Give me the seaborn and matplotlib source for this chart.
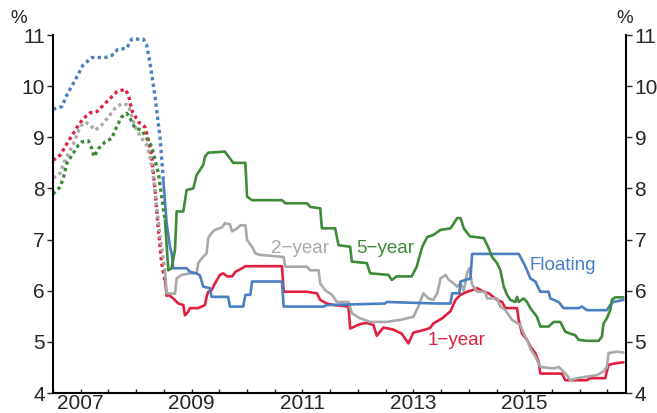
import numpy as np
import pandas as pd
import matplotlib
matplotlib.use("Agg")
import matplotlib.pyplot as plt
import seaborn as sns

sns.set_style("white")
plt.rcParams["font.family"] = ["Liberation Sans", "DejaVu Sans"]

# ---- data (decimal years, per cent) ----
# dotted segments (earlier series) and solid segments (later series)
floating_dot_x = [2007.0, 2007.16, 2007.25, 2007.4, 2007.54, 2007.7, 2007.94, 2008.06, 2008.17,
                  2008.33, 2008.42, 2008.63, 2008.69, 2008.75, 2008.84, 2008.93, 2008.99]
floating_dot_y = [9.55, 9.6, 9.83, 10.12, 10.41, 10.56, 10.56, 10.6, 10.72,
                  10.74, 10.92, 10.92, 10.8, 10.45, 9.8, 9.0, 8.16]
floating_x = [2008.99, 2009.05, 2009.11, 2009.14, 2009.17, 2009.41, 2009.47, 2009.59, 2009.65,
              2009.71, 2009.83, 2009.86, 2010.16, 2010.19, 2010.43, 2010.47, 2010.56, 2010.59,
              2011.13, 2011.16, 2011.88, 2011.94, 2012.99, 2013.02, 2013.93, 2014.17, 2014.2,
              2014.33, 2014.35, 2014.44, 2014.53, 2014.56, 2015.4, 2015.49, 2015.55, 2015.61,
              2015.7, 2015.79, 2015.94, 2015.97, 2016.12, 2016.21, 2016.48, 2016.54, 2016.63,
              2016.99, 2017.05, 2017.11, 2017.29]
floating_y = [8.16, 7.32, 6.86, 6.73, 6.44, 6.44, 6.37, 6.34, 6.3,
              6.08, 6.05, 5.88, 5.88, 5.69, 5.69, 5.92, 5.92, 6.18,
              6.18, 5.69, 5.69, 5.72, 5.75, 5.78, 5.75, 5.75, 5.95,
              5.95, 6.18, 6.21, 6.24, 6.72, 6.72, 6.54, 6.4, 6.24,
              6.18, 5.98, 5.98, 5.85, 5.78, 5.66, 5.66, 5.69, 5.62,
              5.62, 5.72, 5.78, 5.82]

one_dot_x = [2007.0, 2007.13, 2007.22, 2007.31, 2007.46, 2007.55, 2007.67, 2007.79, 2007.91,
             2008.03, 2008.15, 2008.3, 2008.36, 2008.42, 2008.54, 2008.66, 2008.72, 2008.78,
             2008.84, 2008.9, 2008.96, 2009.02]
one_dot_y = [8.55, 8.65, 8.82, 8.98, 9.24, 9.37, 9.48, 9.5, 9.63,
             9.76, 9.89, 9.94, 9.83, 9.53, 9.3, 9.2, 8.95, 8.62,
             7.97, 7.19, 6.54, 6.2]
one_x = [2009.02, 2009.05, 2009.08, 2009.17, 2009.26, 2009.35, 2009.38, 2009.44, 2009.47,
         2009.62, 2009.74, 2009.77, 2009.8, 2009.86, 2009.92, 2010.01, 2010.07, 2010.14,
         2010.23, 2010.29, 2010.41, 2010.47, 2011.13, 2011.16, 2011.58, 2011.76, 2011.82,
         2011.94, 2012.06, 2012.33, 2012.36, 2012.54, 2012.66, 2012.78, 2012.84, 2012.96,
         2013.14, 2013.29, 2013.41, 2013.5, 2013.68, 2013.8, 2013.86, 2014.02, 2014.17,
         2014.26, 2014.35, 2014.47, 2014.56, 2014.65, 2014.77, 2014.86, 2015.01, 2015.1,
         2015.16, 2015.37, 2015.4, 2015.46, 2015.55, 2015.61, 2015.7, 2015.76, 2015.79,
         2016.18, 2016.24, 2016.63, 2016.69, 2016.96, 2017.02, 2017.14, 2017.29]
one_y = [6.2, 5.9, 5.92, 5.85, 5.75, 5.72, 5.52, 5.59, 5.66,
         5.66, 5.72, 5.88, 5.98, 6.01, 6.14, 6.31, 6.34, 6.28,
         6.28, 6.37, 6.44, 6.48, 6.48, 5.98, 5.98, 5.95, 5.82,
         5.75, 5.72, 5.69, 5.26, 5.35, 5.37, 5.33, 5.12, 5.28,
         5.24, 5.16, 4.97, 5.18, 5.23, 5.27, 5.36, 5.46, 5.6,
         5.82, 5.92, 5.98, 6.01, 6.05, 5.98, 5.95, 5.82, 5.78,
         5.66, 5.66, 5.43, 5.16, 5.04, 4.91, 4.78, 4.61, 4.38,
         4.38, 4.25, 4.25, 4.29, 4.29, 4.55, 4.58, 4.6]

two_dot_x = [2007.0, 2007.13, 2007.19, 2007.28, 2007.37, 2007.49, 2007.58, 2007.67, 2007.76,
             2007.88, 2008.0, 2008.12, 2008.24, 2008.36, 2008.42, 2008.51, 2008.6, 2008.69,
             2008.75, 2008.81, 2008.87, 2008.93, 2009.02]
two_dot_y = [8.2, 8.3, 8.49, 8.69, 8.88, 9.21, 9.3, 9.24, 9.14,
             9.24, 9.4, 9.57, 9.66, 9.63, 9.4, 9.14, 8.98, 8.85,
             8.62, 8.23, 7.64, 7.06, 6.4]
two_x = [2009.02, 2009.05, 2009.2, 2009.23, 2009.32, 2009.47, 2009.59, 2009.62, 2009.68,
         2009.77, 2009.8, 2009.86, 2009.92, 2010.05, 2010.1, 2010.19, 2010.23, 2010.32,
         2010.38, 2010.47, 2010.5, 2010.59, 2010.65, 2010.74, 2011.16, 2011.19, 2011.58,
         2011.64, 2011.79, 2011.82, 2011.91, 2012.03, 2012.12, 2012.33, 2012.39, 2012.54,
         2012.72, 2013.02, 2013.26, 2013.5, 2013.59, 2013.68, 2013.77, 2013.86, 2013.93,
         2013.99, 2014.08, 2014.14, 2014.23, 2014.29, 2014.35, 2014.41, 2014.47, 2014.51,
         2014.56, 2014.65, 2014.8, 2014.83, 2015.01, 2015.07, 2015.16, 2015.28, 2015.34,
         2015.43, 2015.49, 2015.55, 2015.61, 2015.7, 2015.79, 2016.03, 2016.12, 2016.18,
         2016.27, 2016.33, 2016.45, 2016.63, 2016.81, 2016.93, 2016.99, 2017.02, 2017.17,
         2017.29]
two_y = [6.4, 5.95, 5.94, 6.24, 6.31, 6.34, 6.34, 6.54, 6.63,
         6.73, 7.03, 7.13, 7.19, 7.24, 7.32, 7.3, 7.16, 7.22,
         7.28, 7.28, 6.99, 6.86, 6.73, 6.7, 6.66, 6.47, 6.47,
         6.4, 6.4, 6.14, 6.01, 5.92, 5.78, 5.78, 5.56, 5.46,
         5.39, 5.39, 5.43, 5.49, 5.69, 5.95, 5.85, 5.82, 5.95,
         6.24, 6.31, 6.21, 6.14, 6.08, 6.14, 6.0, 6.35, 6.44,
         6.12, 5.98, 5.98, 5.85, 5.85, 5.69, 5.62, 5.43, 5.39,
         5.33, 5.16, 5.04, 4.87, 4.71, 4.51, 4.48, 4.51, 4.45,
         4.35, 4.25, 4.29, 4.32, 4.35, 4.42, 4.51, 4.78, 4.81,
         4.79]

five_dot_x = [2007.0, 2007.13, 2007.19, 2007.25, 2007.34, 2007.46, 2007.52, 2007.64, 2007.7,
              2007.74, 2007.82, 2007.94, 2008.06, 2008.15, 2008.24, 2008.33, 2008.39, 2008.48,
              2008.6, 2008.69, 2008.78, 2008.84, 2008.9, 2008.96, 2009.02]
five_dot_y = [7.89, 8.03, 8.23, 8.49, 8.65, 8.85, 8.91, 8.93, 8.78,
              8.62, 8.78, 8.91, 8.98, 9.21, 9.4, 9.47, 9.37, 9.18,
              9.14, 8.98, 8.82, 8.56, 8.3, 7.84, 7.38]
five_x = [2009.02, 2009.08, 2009.14, 2009.2, 2009.23, 2009.35, 2009.41, 2009.53, 2009.59,
          2009.65, 2009.71, 2009.74, 2009.8, 2010.1, 2010.19, 2010.25, 2010.47, 2010.5,
          2010.59, 2011.13, 2011.19, 2011.58, 2011.64, 2011.82, 2011.85, 2012.09, 2012.15,
          2012.36, 2012.39, 2012.66, 2012.72, 2013.05, 2013.11, 2013.2, 2013.47, 2013.56,
          2013.66, 2013.75, 2013.86, 2013.99, 2014.17, 2014.23, 2014.29, 2014.35, 2014.41,
          2014.5, 2014.53, 2014.77, 2014.86, 2014.92, 2015.01, 2015.07, 2015.13, 2015.19,
          2015.25, 2015.34, 2015.37, 2015.4, 2015.49, 2015.55, 2015.61, 2015.73, 2015.79,
          2015.94, 2016.03, 2016.15, 2016.24, 2016.33, 2016.42, 2016.48, 2016.63, 2016.84,
          2016.9, 2016.93, 2016.99, 2017.05, 2017.08, 2017.14, 2017.29]
five_y = [7.38, 6.4, 6.44, 6.8, 7.55, 7.55, 7.97, 8.0, 8.26,
          8.36, 8.46, 8.62, 8.7, 8.72, 8.59, 8.5, 8.5, 7.84,
          7.77, 7.77, 7.71, 7.71, 7.64, 7.61, 7.22, 7.22, 6.89,
          6.86, 6.57, 6.54, 6.34, 6.31, 6.21, 6.28, 6.28, 6.47,
          6.86, 7.05, 7.09, 7.19, 7.22, 7.32, 7.42, 7.42, 7.22,
          7.09, 7.06, 7.03, 6.83, 6.66, 6.54, 6.4, 6.08, 5.92,
          5.82, 5.78, 5.88, 5.78, 5.85, 5.78, 5.66, 5.49, 5.3,
          5.3, 5.39, 5.39, 5.2, 5.16, 5.13, 5.04, 5.02, 5.02,
          5.1, 5.36, 5.46, 5.62, 5.82, 5.87, 5.87]

series = ["1\u2212year", "2\u2212year", "Floating", "5\u2212year"]
colors = {"Floating": "#4A7FC4", "1\u2212year": "#E0203E",
          "2\u2212year": "#A9A9A9", "5\u2212year": "#3E8A38"}
dotted = {"Floating": (floating_dot_x, floating_dot_y), "1\u2212year": (one_dot_x, one_dot_y),
          "2\u2212year": (two_dot_x, two_dot_y), "5\u2212year": (five_dot_x, five_dot_y)}
solid = {"Floating": (floating_x, floating_y), "1\u2212year": (one_x, one_y),
         "2\u2212year": (two_x, two_y), "5\u2212year": (five_x, five_y)}

fig = plt.figure(figsize=(6.57, 4.13), dpi=100)
ax = fig.add_axes([0.0807, 0.0484, 0.8725, 0.8668])

for name in series:
    dx, dy = dotted[name]
    sx, sy = solid[name]
    sns.lineplot(x=dx, y=dy, ax=ax, sort=False, estimator=None, color=colors[name],
                 lw=2.4, linestyle=(0, (1, 1)))
    sns.lineplot(x=sx, y=sy, ax=ax, sort=False, estimator=None, color=colors[name],
                 lw=1.9)

# series labels
label_pos = {"Floating": (2015.6, 6.5, "left"), "1\u2212year": (2014.28, 5.02, "center"),
             "2\u2212year": (2011.46, 6.82, "center"), "5\u2212year": (2013.0, 6.82, "center")}
for name, (lx, ly, ha) in label_pos.items():
    ax.text(lx, ly, name, color=colors[name], fontsize=13.5, ha=ha, va="center")

ax.set_xlim(2007.0, 2017.34)
ax.set_ylim(4, 11)
ax.set_yticks(range(4, 12))
ax.set_yticklabels([str(v) for v in range(4, 12)])

# half-year tick marks, labels centred on odd years
ax.xaxis.remove_overlapping_locs = False
ax.set_xticks(np.arange(2007.0, 2017.01, 0.5), minor=True)
ax.set_xticks([2007.5, 2009.5, 2011.5, 2013.5, 2015.5])
ax.set_xticklabels(["2007", "2009", "2011", "2013", "2015"])
ax.tick_params(axis="x", which="major", length=0, pad=1, labelsize=15)
ax.tick_params(axis="x", which="minor", length=3, width=1, direction="in", bottom=True)
ax.tick_params(axis="y", which="major", length=4, width=1, direction="out",
               left=True, right=True, labelleft=True, labelright=True, pad=2, labelsize=15)

for side in ["left", "right", "bottom"]:
    ax.spines[side].set_visible(True)
    ax.spines[side].set_color("black")
    ax.spines[side].set_linewidth(1.5)
ax.spines["top"].set_visible(False)
ax.set_xlabel("")
ax.set_ylabel("")
ax.grid(False)

fig.text(0.029, 0.955, "%", fontsize=13.5, ha="center", va="center")
fig.text(0.951, 0.955, "%", fontsize=13.5, ha="center", va="center")

fig.savefig("out.png", dpi=100)
